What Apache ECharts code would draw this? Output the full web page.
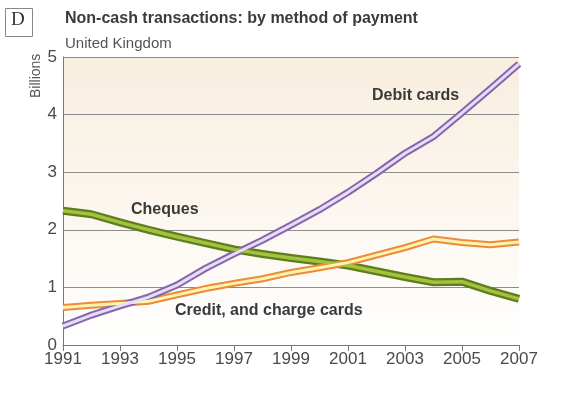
<!DOCTYPE html>
<html>
<head>
<meta charset="utf-8">
<script src="https://cdn.jsdelivr.net/npm/echarts@6/dist/echarts.min.js"></script>
<style>
html,body{margin:0;padding:0;background:#fff;}
#chart{width:578px;height:396px;}
</style>
</head>
<body>
<div id="chart"></div>
<script>
const years = ['1991','1992','1993','1994','1995','1996','1997','1998','1999','2000','2001','2002','2003','2004','2005','2006','2007'];
const debitCards = [0.33, 0.52, 0.68, 0.83, 1.04, 1.33, 1.58, 1.82, 2.08, 2.35, 2.65, 2.98, 3.33, 3.62, 4.03, 4.45, 4.88];
const creditCards = [0.65, 0.69, 0.72, 0.76, 0.87, 0.98, 1.07, 1.15, 1.26, 1.34, 1.43, 1.56, 1.69, 1.84, 1.78, 1.74, 1.79];
const cheques = [2.33, 2.27, 2.13, 2.00, 1.88, 1.77, 1.66, 1.58, 1.51, 1.45, 1.38, 1.28, 1.18, 1.09, 1.10, 0.94, 0.80];
const yTicks = [0, 1, 2, 3, 4, 5];

const FONT = '"Liberation Sans", Arial, sans-serif';

function doubleLine(name, data, outer, inner, wOuter, wInner) {
  return [
    {name: name, type: 'line', data: data, symbol: 'none', z: 2,
     lineStyle: {color: outer, width: wOuter, join: 'round'}, animation: false},
    {name: name + ' inner', type: 'line', data: data, symbol: 'none', z: 3,
     lineStyle: {color: inner, width: wInner, join: 'round'}, animation: false}
  ];
}

const chart = echarts.init(document.getElementById('chart'), null, {renderer: 'canvas'});
chart.setOption({
  animation: false,
  backgroundColor: '#ffffff',
  title: [
    {text: 'Non-cash transactions: by method of payment', left: 65, top: 11, padding: 0,
     textStyle: {fontFamily: FONT, fontSize: 16, fontWeight: 'bold', color: '#3b3b3b'}},
    {text: 'United Kingdom', left: 65, top: 36, padding: 0,
     textStyle: {fontFamily: FONT, fontSize: 15, fontWeight: 'normal', color: '#555'}}
  ],
  grid: {
    left: 63, right: 59, top: 57, bottom: 51, show: true, borderWidth: 0,
    backgroundColor: {type: 'linear', x: 0, y: 0, x2: 0, y2: 1, colorStops: [
      {offset: 0, color: '#f8eee0'}, {offset: 0.45, color: '#fbf5ec'}, {offset: 1, color: '#ffffff'}]}
  },
  xAxis: {
    type: 'category', data: years, boundaryGap: false,
    axisLine: {show: true, lineStyle: {color: '#777', width: 1}},
    axisTick: {show: true, interval: 1, length: 6, lineStyle: {color: '#777'}},
    axisLabel: {interval: 1, fontFamily: FONT, fontSize: 17, color: '#4a4a4a', margin: 6},
    splitLine: {show: false}
  },
  yAxis: {
    type: 'value', min: 0, max: 5, interval: 1,
    axisLine: {show: true, lineStyle: {color: '#777', width: 1}},
    axisTick: {show: false},
    axisLabel: {fontFamily: FONT, fontSize: 17, color: '#4a4a4a', margin: 6,
      formatter: function (v) { return yTicks.indexOf(v) >= 0 ? String(v) : ''; }},
    splitLine: {show: true, lineStyle: {color: '#8c8c8c', width: 1}}
  },
  series: [].concat(
    doubleLine('Cheques', cheques, '#5f7d1c', '#a3c23e', 8, 3.5),
    doubleLine('Credit, and charge cards', creditCards, '#ee8a3a', '#fff3b0', 7, 3),
    doubleLine('Debit cards', debitCards, '#8466ad', '#e9dcf5', 7, 3)
  ),
  graphic: [
    {type: 'rect', left: 5, top: 8, shape: {width: 27, height: 28},
     style: {fill: '#fff', stroke: '#888', lineWidth: 1}},
    {type: 'text', left: 11, top: 11,
     style: {text: 'D', font: '19px "Liberation Serif", "DejaVu Serif", serif', fill: '#333'}},
    {type: 'text', x: 29, y: 98, rotation: Math.PI / 2,
     style: {text: 'Billions', font: '14px ' + FONT, fill: '#555'}},
    {type: 'text', left: 372, top: 88,
     style: {text: 'Debit cards', font: 'bold 16px ' + FONT, fill: '#3a3a3a'}},
    {type: 'text', left: 131, top: 202,
     style: {text: 'Cheques', font: 'bold 16px ' + FONT, fill: '#3a3a3a'}},
    {type: 'text', left: 175, top: 303,
     style: {text: 'Credit, and charge cards', font: 'bold 16px ' + FONT, fill: '#3a3a3a'}}
  ]
});
</script>
</body>
</html>
